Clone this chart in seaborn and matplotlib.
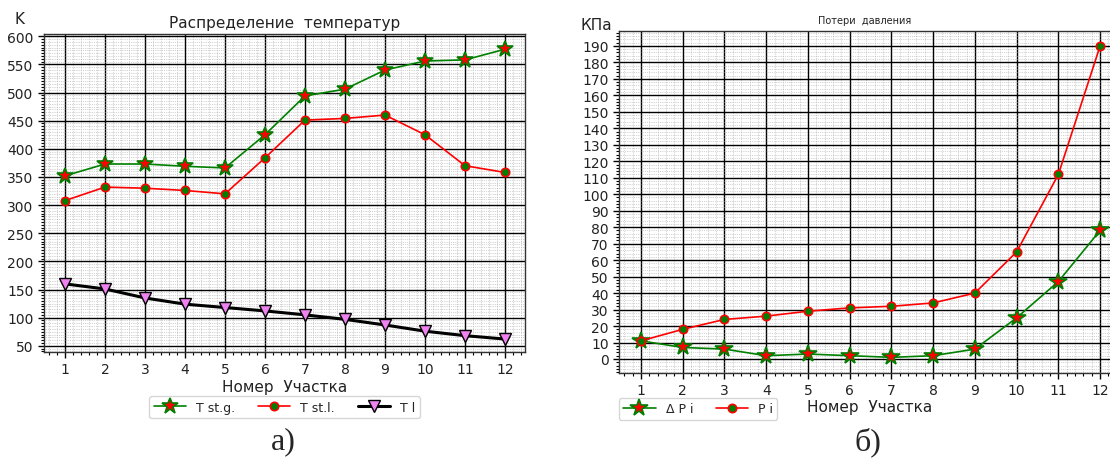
import numpy as np
import pandas as pd
import matplotlib
matplotlib.use("Agg")
import matplotlib.pyplot as plt
from matplotlib.ticker import MultipleLocator
import seaborn as sns

# Section numbers
sections = list(range(1, 13))

# Temperature distribution, K
t_st_g = [352, 373, 373, 369, 366, 425, 494, 506, 540, 556, 558, 577]
t_st_l = [308, 332, 330, 326, 320, 384, 451, 454, 460, 425, 370, 358]
t_l = [160, 151, 135, 124, 118, 112, 105, 97, 87, 76, 68, 62]

# Pressure losses, kPa
dp_i = [11, 7, 6, 2, 3, 2, 1, 2, 6, 25, 47, 78]
p_i = [11, 18, 24, 26, 29, 31, 32, 34, 40, 65, 112, 190]

sns.set_theme(style="white")
plt.rcParams['font.family'] = ['DejaVu Sans']

fig = plt.figure(figsize=(11.1, 4.64), dpi=100)
W, H = 1110, 464


def px_axes(left, top, right, bottom):
    return fig.add_axes([left / W, 1 - bottom / H, (right - left) / W, (bottom - top) / H])


def style_grid(ax, xminor, yminor, ymajor):
    ax.xaxis.set_major_locator(MultipleLocator(1))
    ax.xaxis.set_minor_locator(MultipleLocator(xminor))
    ax.yaxis.set_major_locator(MultipleLocator(ymajor))
    ax.yaxis.set_minor_locator(MultipleLocator(yminor))
    ax.grid(which='major', color='black', linewidth=1.0, linestyle='-')
    ax.grid(which='minor', color='#aaaaaa', linewidth=0.5, linestyle=':')
    ax.tick_params(which='major', direction='out', length=4, width=1, color='black',
                   labelsize=10, bottom=True, left=True, labelcolor='#222222')
    ax.tick_params(which='minor', direction='out', length=2, width=0.8, color='black',
                   bottom=True, left=True)
    for s in ax.spines.values():
        s.set_color('#333333')
        s.set_linewidth(1.0)
    ax.set_axisbelow(True)


legend_kw = dict(ncol=3, fontsize=9, frameon=True, edgecolor='#cccccc',
                 handlelength=2.6, columnspacing=1.8, handletextpad=0.8,
                 borderpad=0.35)

# Left panel: temperatures
ax1 = px_axes(44, 35, 525, 353)
df_t = pd.DataFrame({"x": sections, "g": t_st_g, "l": t_st_l, "tl": t_l})
sns.lineplot(data=df_t, x="x", y="g", ax=ax1, color='green', linewidth=1.2,
             marker='*', markersize=12, markerfacecolor='red', markeredgecolor='green',
             markeredgewidth=1.2, label='T st.g.')
sns.lineplot(data=df_t, x="x", y="l", ax=ax1, color='red', linewidth=1.2,
             marker='o', markersize=6, markerfacecolor='green', markeredgecolor='red',
             markeredgewidth=1.2, label='T st.l.')
sns.lineplot(data=df_t, x="x", y="tl", ax=ax1, color='black', linewidth=2.2,
             marker='v', markersize=9, markerfacecolor='violet', markeredgecolor='black',
             markeredgewidth=1.0, label='T l')
ax1.set_xlim(0.475, 12.5)
ax1.set_ylim(39, 604)
style_grid(ax1, 0.2, 5, 50)
ax1.set_ylabel('')
ax1.set_xlabel('Номер  Участка', fontsize=11, labelpad=2, color='#222222')
ax1.set_title('Распределение  температур', fontsize=11, pad=5, color='#222222')
ax1.legend(loc='upper center', bbox_to_anchor=(0.5, -0.12), **legend_kw)
fig.text(14 / W, 1 - 20 / H, 'K', fontsize=11, ha='left', va='center', color='#222222')

# Right panel: pressure
ax2 = px_axes(619, 32, 1121, 374)
df_p = pd.DataFrame({"x": sections, "dp": dp_i, "p": p_i})
sns.lineplot(data=df_p, x="x", y="dp", ax=ax2, color='green', linewidth=1.2,
             marker='*', markersize=13, markerfacecolor='red', markeredgecolor='green',
             markeredgewidth=1.2, label='Δ P i')
sns.lineplot(data=df_p, x="x", y="p", ax=ax2, color='red', linewidth=1.2,
             marker='o', markersize=6, markerfacecolor='green', markeredgecolor='red',
             markeredgewidth=1.2, label='P i')
ax2.set_xlim(0.473, 12.5)
ax2.set_ylim(-8.5, 199)
style_grid(ax2, 0.2, 2, 10)
ax2.set_ylabel('')
ax2.set_xlabel('Номер  Участка', fontsize=11, labelpad=2, color='#222222')
ax2.xaxis.set_label_coords((870 - 619) / (1121 - 619), -0.075)
ax2.set_title('Потери  давления', fontsize=7, pad=6, color='#222222',
              x=(865 - 619) / (1121 - 619))
kw2 = dict(legend_kw)
kw2['ncol'] = 2
ax2.legend(loc='upper left', bbox_to_anchor=(-0.013, -0.055), **kw2)
fig.text(580 / W, 1 - 25 / H, 'КПа', fontsize=11, ha='left', va='center', color='#222222')

# Panel captions
fig.text(283 / W, 1 - 442 / H, 'а)', fontsize=23, ha='center', va='center',
         family=['Liberation Serif'])
fig.text(868 / W, 1 - 442 / H, 'б)', fontsize=23, ha='center', va='center',
         family=['Liberation Serif'])

fig.savefig('out.png', dpi=100)
